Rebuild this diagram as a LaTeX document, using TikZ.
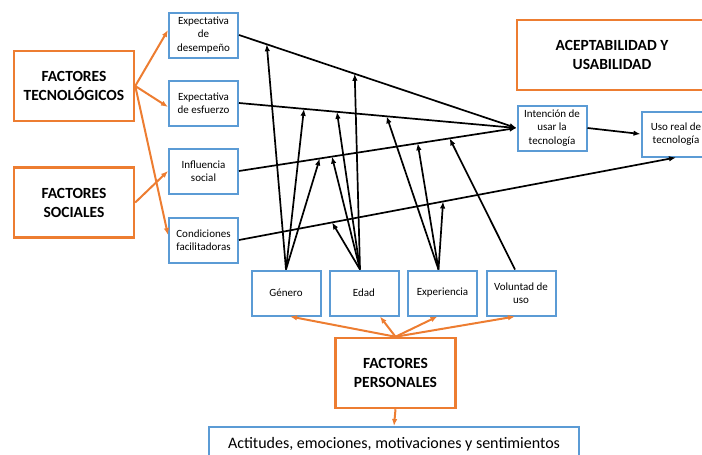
\documentclass[tikz,border=0pt]{standalone}
\usepackage{fontspec}
\setmainfont{Carlito}
\usetikzlibrary{arrows.meta,calc}
\definecolor{naranja}{HTML}{ED7D31}
\definecolor{azul}{HTML}{5B9BD5}

\begin{document}
\begin{tikzpicture}[x=1pt,y=-1pt,>={Latex[length=7pt,width=5.5pt]},
  every node/.style={font=\fontsize{11}{13.3}\selectfont,align=center,inner sep=1pt},
  caja/.style={draw=azul,line width=2pt,minimum width=69pt,minimum height=45pt},
  factor/.style={draw=naranja,line width=2.5pt,minimum width=120pt,minimum height=70pt,font=\fontsize{15.5}{19}\selectfont\bfseries},
  flecha/.style={->,line width=1.7pt},
  flechan/.style={->,draw=naranja,line width=2pt}]
\useasboundingbox (0,0) rectangle (702,455);
\node[factor] (tec) at (74,86) {FACTORES\\TECNOLÓGICOS};
\node[factor] (soc) at (74,202.5) {FACTORES\\SOCIALES};
\node[factor,minimum width=190pt] (acep) at (612,55) {ACEPTABILIDAD Y\\USABILIDAD};
\node[factor] (per) at (395.5,373) {FACTORES\\PERSONALES};
\node[caja] (des) at (203.5,35) {Expectativa\\de\\desempeño};
\node[caja] (esf) at (203.5,103) {Expectativa\\de esfuerzo};
\node[caja] (inf) at (203.5,171) {Influencia\\social};
\node[caja] (con) at (203.5,240) {Condiciones\\facilitadoras};
\node[caja] (int) at (552,128) {Intención de\\usar la\\tecnología};
\node[caja] (uso) at (676,134) {Uso real de\\tecnología};
\node[caja] (gen) at (286,293) {Género};
\node[caja] (eda) at (364,293) {Edad};
\node[caja] (exp) at (442.5,293) {Experiencia};
\node[caja] (vol) at (521,293) {Voluntad de\\uso};
\node[caja,minimum width=370pt,minimum height=34pt,font=\fontsize{16}{18}\selectfont] (act) at (394,444) {Actitudes, emociones, motivaciones y sentimientos};
\draw[flechan] (tec.east) -- ([yshift=5pt]des.west);
\draw[flechan] (tec.east) -- ([yshift=-4pt]esf.west);
\draw[flechan] (tec.east) -- ([yshift=5pt]con.west);
\draw[flechan] (soc.east) -- (inf.west);
\draw[flechan] (per.north) -- ([xshift=4pt]gen.south);
\draw[flechan] (per.north) -- ([xshift=16pt]eda.south);
\draw[flechan] (per.north) -- ([xshift=-5pt]exp.south);
\draw[flechan] (per.north) -- ([xshift=-6pt]vol.south);
\draw[flechan] (per.south) -- (act.north);
\draw[flecha] (des.east) -- (int.west);
\draw[flecha] (esf.east) -- (int.west);
\draw[flecha] (inf.east) -- (int.west);
\draw[flecha] (con.east) -- (uso.south);
\draw[flecha] (int.east) -- (uso.west);
\coordinate (gtop) at (gen.north);
\coordinate (etop) at ([xshift=-4pt]eda.north);
\coordinate (xtop) at ([xshift=-4pt]exp.north);
\coordinate (vtop) at ([xshift=-6pt]vol.north);
\foreach \s/\a/\b/\p in {gtop/des/int.west/0.10,gtop/esf/int.west/0.234,gtop/inf/int.west/0.291,
  etop/des/int.west/0.417,etop/esf/int.west/0.353,etop/inf/int.west/0.335,etop/con/uso.south/0.213,
  xtop/esf/int.west/0.532,xtop/inf/int.west/0.644,xtop/con/uso.south/0.467,
  vtop/inf/int.west/0.759}{
\draw[flecha] (\s) -- ($(\a.east)!\p!(\b)$);}
\end{tikzpicture}
\end{document}
